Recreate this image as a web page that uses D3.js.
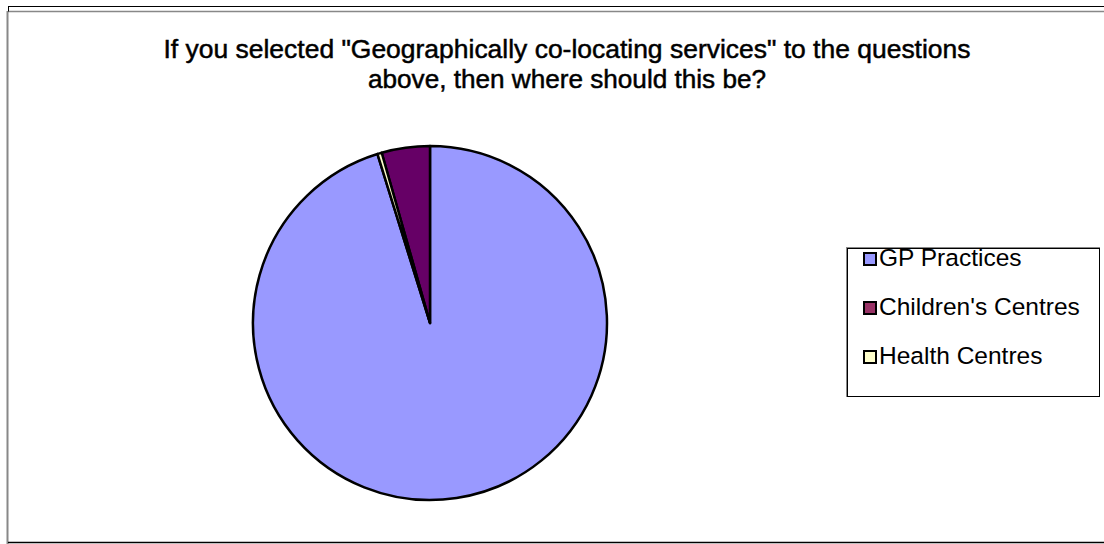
<!DOCTYPE html>
<html>
<head>
<meta charset="utf-8">
<script src="https://cdn.jsdelivr.net/npm/d3@7"></script>
<style>
  body { margin: 0; background: #fff; }
  .grf_title { font-family: "Liberation Sans", Arial, sans-serif; font-size: 26.5px; fill: #000; }
  .leg_txt { font-family: "Liberation Sans", Arial, sans-serif; font-size: 24.5px; fill: #000; }
</style>
</head>
<body>
<div id="pieChart"></div>
<script>
// chart data
const categories = ["GP Practices", "Children's Centres", "Health Centres"];
const values = [95.2, 4.4, 0.4];
const sliceColors = ["#9999FF", "#660066", "#FFFFCC"];
const legendColors = ["#9999FF", "#993366", "#FFFFCC"];
const drawOrder = [0, 2, 1]; // clockwise order of slices from 12 o'clock
const titleLines = ['If you selected "Geographically co-locating services" to the questions',
    'above, then where should this be?'];

const W = 1104, H = 544;

function draw_pie_chart() {
    var svg = d3.select("#pieChart").append("svg")
        .attr("width", W)
        .attr("height", H);

    // outer frame
    svg.append("line").attr("x1", 8).attr("x2", W).attr("y1", 6.5).attr("y2", 6.5)
        .attr("stroke", "#000").attr("stroke-width", 1);
    svg.append("line").attr("x1", 8).attr("x2", W).attr("y1", 11.5).attr("y2", 11.5)
        .attr("stroke", "#888").attr("stroke-width", 1.5);
    svg.append("line").attr("x1", 8.5).attr("x2", 8.5).attr("y1", 6).attr("y2", 12)
        .attr("stroke", "#000").attr("stroke-width", 1);
    svg.append("line").attr("x1", 7.5).attr("x2", 7.5).attr("y1", 11).attr("y2", H)
        .attr("stroke", "#888").attr("stroke-width", 2);
    svg.append("line").attr("x1", 8).attr("x2", W).attr("y1", 542.5).attr("y2", 542.5)
        .attr("stroke", "#000").attr("stroke-width", 1.5);

    // title
    svg.selectAll(".grf_title").data(titleLines).enter().append("text")
        .attr("class", "grf_title")
        .attr("x", 567)
        .attr("y", (d, i) => 58 + i * 30)
        .attr("text-anchor", "middle")
        .attr("stroke", "#000").attr("stroke-width", 0.5)
        .attr("textLength", (d, i) => i == 0 ? 807 : 398)
        .attr("lengthAdjust", "spacingAndGlyphs")
        .text(d => d);

    // pie
    var cx = 430, cy = 323, r = 177;
    var data = categories.map((c, i) => ({ name: c, value: values[i], idx: i }));
    var pie = d3.pie()
        .value(d => d.value)
        .sort((a, b) => drawOrder.indexOf(a.idx) - drawOrder.indexOf(b.idx));
    var arc = d3.arc().innerRadius(0).outerRadius(r);

    var g = svg.append("g").attr("transform", "translate(" + cx + "," + cy + ")");
    g.selectAll(".slice").data(pie(data)).enter().append("path")
        .attr("class", "slice")
        .attr("d", arc)
        .attr("fill", d => sliceColors[d.data.idx])
        .attr("stroke", "#000")
        .attr("stroke-width", 2.5)
        .attr("stroke-linejoin", "round");

    // legend
    var lx = 846, ly = 247, lw = 253, lh = 149;
    var leg = svg.append("g");
    leg.append("rect").attr("x", lx + 0.5).attr("y", ly + 0.5).attr("width", lw).attr("height", lh)
        .attr("fill", "#fff").attr("stroke", "#888").attr("stroke-width", 1);
    leg.append("rect").attr("x", lx + 1.5).attr("y", ly + 1.5).attr("width", lw - 1).attr("height", lh - 1)
        .attr("fill", "none").attr("stroke", "#000").attr("stroke-width", 1);

    var items = leg.selectAll(".leg_item").data(categories).enter().append("g")
        .attr("transform", (d, i) => "translate(" + (lx + 18) + "," + (ly + 6 + i * 49) + ")");
    items.append("rect")
        .attr("width", 12).attr("height", 12)
        .attr("fill", (d, i) => legendColors[i])
        .attr("stroke", "#000").attr("stroke-width", 2);
    items.append("text")
        .attr("class", "leg_txt")
        .attr("x", 15)
        .attr("y", 13)
        .text(d => d);
}

draw_pie_chart();
</script>
</body>
</html>
